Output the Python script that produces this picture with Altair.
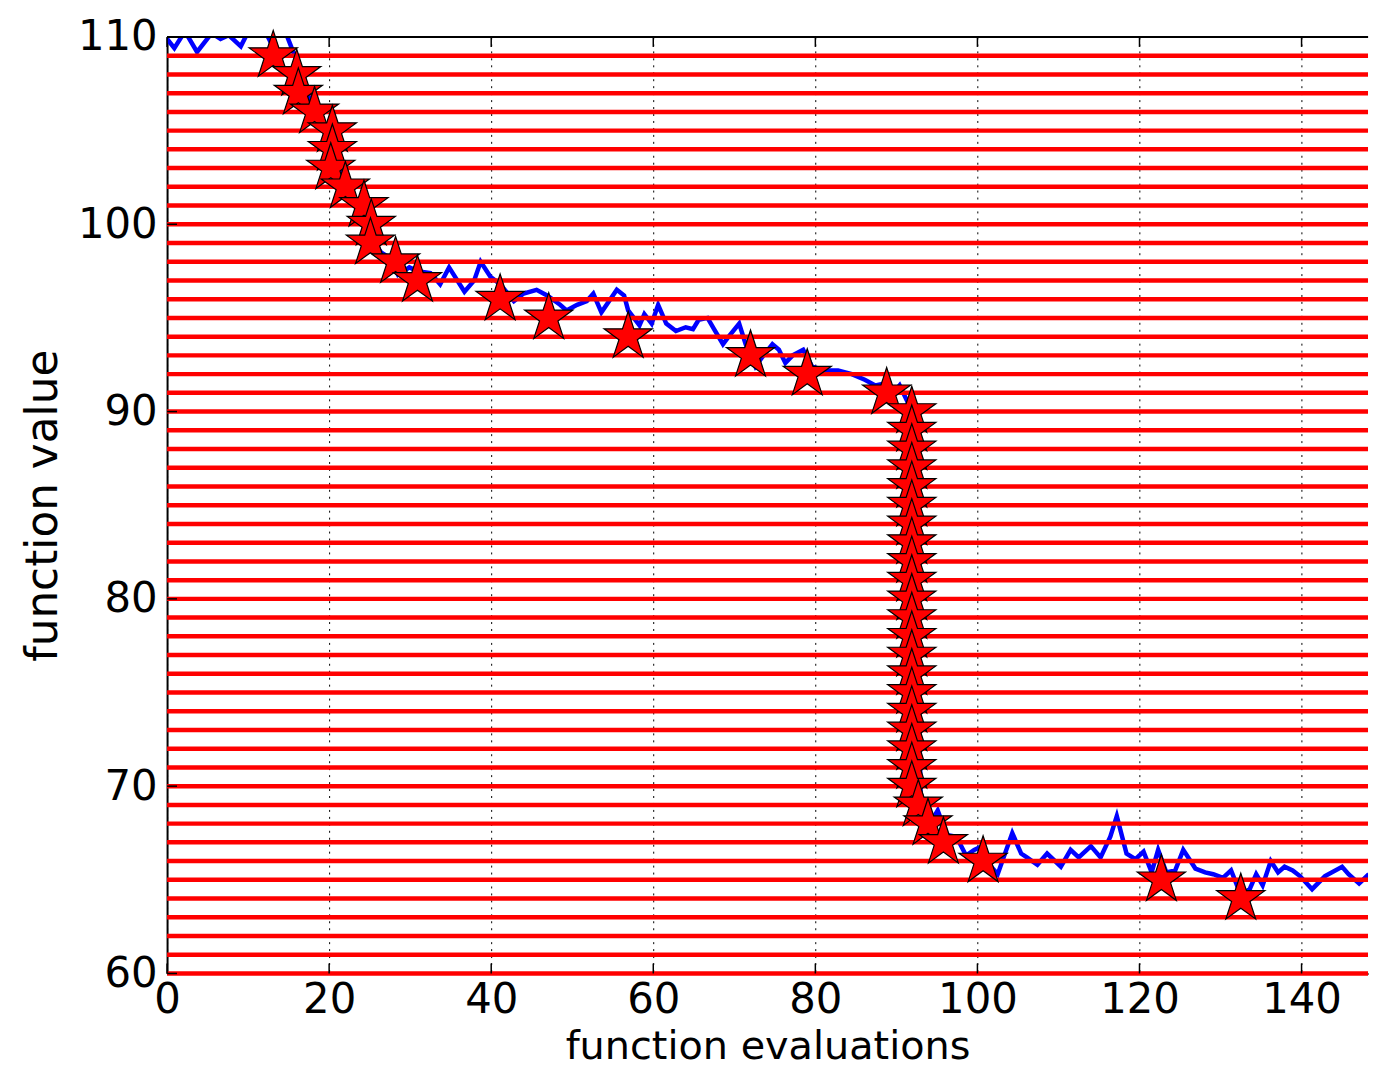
import altair as alt
import pandas as pd

# ---- data ----
blue_x = [0, 0.9, 2.2, 3.7, 5.5, 6.6, 7.6, 9.1, 9.8, 11.0, 12.0, 12.8, 13.5, 14.4, 15.3,
          16.0, 16.5, 17.7, 18.8, 19.8, 20.6, 21.5, 22.6, 23.8, 24.8, 25.6, 26.4, 27.5,
          28.5, 29.9, 30.9, 32.5, 33.7, 34.8, 36.7, 37.9, 38.7, 39.9, 41.1, 42.8, 44.0,
          45.6, 46.9, 48.5, 49.3, 50.6, 51.8, 52.6, 53.6, 55.5, 56.4, 56.9, 58.3, 58.9,
          59.8, 60.6, 61.6, 62.8, 64.0, 64.9, 65.6, 66.7, 67.5, 68.6, 69.3, 70.6, 71.4,
          72.6, 73.6, 74.7, 75.5, 76.3, 77.2, 78.5, 79.6, 81.2, 82.8, 84.5, 86.1, 87.4,
          88.6, 89.8, 90.4, 91.4, 92.0, 92.5, 93.0, 94.0, 95.1, 96.2, 97.4, 98.6, 99.6,
          100.6, 101.7, 102.5, 104.3, 105.4, 106.1, 107.4, 108.6, 110.3, 111.5, 112.5,
          114.0, 115.2, 116.4, 117.2, 118.4, 119.5, 120.5, 121.5, 122.3, 123.3, 124.4,
          125.4, 126.9, 128.1, 129.1, 130.3, 131.3, 132.5, 133.6, 134.4, 135.2, 136.2,
          137.1, 137.9, 138.9, 139.8, 141.3, 142.9, 145.0, 145.8, 147.1, 148.3]
blue_y = [109.9, 109.4, 110.3, 109.2, 110.2, 109.9, 110.1, 109.5, 110.1, 110.6, 110.4,
          109.7, 110.3, 110.5, 109.5, 108.7, 107.9, 106.6, 105.5, 104.6, 103.6, 102.7,
          101.8, 100.8, 99.8, 99.0, 98.5, 98.2, 97.3, 97.7, 97.5, 97.4, 96.8, 97.7, 96.4,
          97.0, 98.0, 97.2, 96.8, 95.9, 96.3, 96.5, 96.2, 95.7, 95.4, 95.7, 95.9, 96.3,
          95.3, 96.5, 96.2, 95.4, 94.6, 95.2, 94.7, 95.7, 94.7, 94.3, 94.5, 94.4, 94.9,
          95.0, 94.4, 93.6, 94.0, 94.7, 93.6, 92.4, 93.0, 93.6, 93.3, 92.6, 93.0, 93.3,
          92.4, 92.2, 92.2, 92.0, 91.7, 91.4, 91.5, 91.1, 91.4, 90.5, 89.6, 80.0, 69.5,
          67.9, 68.7, 67.4, 67.3, 66.3, 66.6, 66.8, 65.7, 65.3, 67.5, 66.4, 66.2, 65.8,
          66.4, 65.7, 66.6, 66.2, 66.8, 66.2, 67.3, 68.4, 66.4, 66.1, 66.5, 65.4, 66.6,
          65.4, 65.5, 66.6, 65.6, 65.4, 65.3, 65.1, 65.5, 64.2, 64.5, 65.3, 64.7, 66.0,
          65.4, 65.7, 65.5, 65.2, 64.5, 65.2, 65.7, 65.3, 64.8, 65.3]

star_x = [13.1, 16.0, 16.2, 18.2, 20.4, 20.4, 20.2, 22.0, 24.3, 25.2, 25.1, 28.2, 30.9,
          41.1, 47.1, 56.9, 72.0, 79.0, 88.8,
          91.9, 91.9, 91.9, 91.9, 91.9, 91.9, 91.9, 91.9, 91.9, 91.9, 91.9,
          91.9, 91.9, 91.9, 91.9, 91.9, 91.9, 91.9, 91.9, 91.9, 91.9,
          92.7, 93.9, 95.8, 100.7, 122.7, 132.5]
star_y = [109, 108, 107, 106, 105, 104, 103, 102, 101, 100, 99, 98, 97,
          96, 95, 94, 93, 92, 91,
          90, 89, 88, 87, 86, 85, 84, 83, 82, 81, 80,
          79, 78, 77, 76, 75, 74, 73, 72, 71, 70,
          69, 68, 67, 66, 65, 64]

level_y = [60, 61, 62, 63, 64, 65, 66, 67, 68, 69, 70, 71, 72, 73, 74, 75, 76, 77, 78, 79,
           80, 81, 82, 83, 84, 85, 86, 87, 88, 89, 90, 91, 92, 93, 94, 95, 96, 97, 98, 99,
           100, 101, 102, 103, 104, 105, 106, 107, 108, 109]

x_ticks = [0, 20, 40, 60, 80, 100, 120, 140]
y_ticks = [60, 70, 80, 90, 100, 110]

W, H = 1208, 942
FONT = "DejaVu Sans"

blue_df = pd.DataFrame({"x": blue_x, "y": blue_y})
star_df = pd.DataFrame({"x": star_x, "y": star_y})
level_df = pd.DataFrame({"y": level_y})
xt_df = pd.DataFrame({"x": x_ticks})
yt_df = pd.DataFrame({"y": y_ticks})

xs = alt.Scale(domain=[0, 148.2], nice=False, zero=False)
ys = alt.Scale(domain=[60, 110], nice=False, zero=False)

x_axis = alt.Axis(values=x_ticks, format="d", grid=True, gridColor="black",
                  gridDash=[2, 5], gridWidth=1, gridOpacity=1, ticks=False,
                  domain=True, domainColor="black", domainWidth=2,
                  labelFont=FONT, labelFontSize=42, labelColor="black",
                  labelPadding=6, labelFlush=False,
                  title="function evaluations", titleFont=FONT, titleFontSize=40,
                  titleFontWeight="normal", titleColor="black", titlePadding=7)
y_axis = alt.Axis(values=y_ticks, format="d", grid=True, gridColor="black",
                  gridDash=[2, 5], gridWidth=1, gridOpacity=1, ticks=False,
                  domain=True, domainColor="black", domainWidth=2,
                  labelFont=FONT, labelFontSize=42, labelColor="black",
                  labelPadding=10, labelFlush=False,
                  title="function value", titleFont=FONT, titleFontSize=44,
                  titleFontWeight="normal", titleColor="black", titlePadding=12)

X = lambda: alt.X("x:Q", scale=xs, axis=x_axis)
Y = lambda: alt.Y("y:Q", scale=ys, axis=y_axis)

STAR = ("M0,-1 L0.2245,-0.309 L0.951,-0.309 L0.363,0.118 L0.588,0.809 L0,0.382 "
        "L-0.588,0.809 L-0.363,0.118 L-0.951,-0.309 L-0.2245,-0.309 Z")

blue = alt.Chart(blue_df).mark_line(color="#0000ff", strokeWidth=4.5, clip=True).encode(
    x=X(), y=Y(), order=alt.Order("x:Q"),
)

levels = alt.Chart(level_df).mark_rule(color="#ff0000", strokeWidth=4.5).encode(y=Y())

xticks_b = alt.Chart(xt_df).mark_rule(color="black", strokeWidth=1.5).encode(
    x=X(), y=alt.value(H), y2=alt.value(H - 10)
)
xticks_t = alt.Chart(xt_df).mark_rule(color="black", strokeWidth=1.5).encode(
    x=X(), y=alt.value(0), y2=alt.value(10)
)
yticks_l = alt.Chart(yt_df).mark_rule(color="black", strokeWidth=1.5).encode(
    y=Y(), x=alt.value(0), x2=alt.value(10)
)

stars = alt.Chart(star_df).mark_point(
    shape=STAR, filled=True, fill="#ff0000", fillOpacity=1, stroke="black",
    strokeWidth=1.2, strokeOpacity=1, size=2600, opacity=1
).encode(x=X(), y=Y())

top_border = alt.Chart(xt_df).mark_rule(color="black", strokeWidth=2).encode(
    x=alt.value(0), x2=alt.value(W), y=alt.value(0)
)

chart = alt.layer(blue, levels, xticks_b, xticks_t, yticks_l, stars, top_border).properties(
    width=W, height=H,
    autosize=alt.AutoSizeParams(type="none"),
    padding={"left": 160, "top": 26, "right": 2, "bottom": 102},
    background="white",
).configure_view(stroke=None)

chart.save("out.html", embed_options={"renderer": "svg", "actions": False})
